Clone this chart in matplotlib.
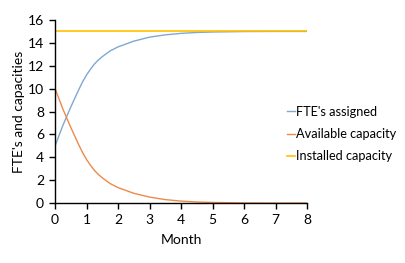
import numpy as np
import matplotlib
matplotlib.use("Agg")
import matplotlib.pyplot as plt

plt.rcParams['font.family'] = ['Lato', 'DejaVu Sans']

month = [0, 0.25, 0.5, 0.75, 0.875, 1, 1.125, 1.25, 1.375, 1.5, 1.75, 2, 2.5, 3, 3.5,
         4, 4.5, 5, 5.5, 6, 7, 8]
fte_assigned = [5, 6.8, 8.4, 9.9, 10.6, 11.2, 11.7, 12.15, 12.5, 12.8, 13.3, 13.65,
                14.15, 14.5, 14.7, 14.83, 14.91, 14.95, 14.97, 14.99, 15, 15]
available = [10, 8.2, 6.6, 5.1, 4.4, 3.8, 3.3, 2.85, 2.5, 2.2, 1.7, 1.35,
             0.85, 0.52, 0.3, 0.17, 0.09, 0.05, 0.03, 0.01, 0, 0]
installed = [15] * len(month)

fig = plt.figure(figsize=(4.05, 2.63), dpi=100)
ax = fig.add_axes([0.136, 0.228, 0.622, 0.696])

ax.plot(month, fte_assigned, color='#7FA8D2', lw=1.0, label="FTE's assigned")
ax.plot(month, available, color='#EE8A48', lw=1.0, label='Available capacity')
ax.plot(month, installed, color='#FFC000', lw=1.2, label='Installed capacity')

ax.set_xlim(0, 8)
ax.set_ylim(0, 16)
ax.set_xticks(range(0, 9))
ax.set_yticks(range(0, 17, 2))
for s in ['top', 'right']:
    ax.spines[s].set_visible(False)
for s in ['left', 'bottom']:
    ax.spines[s].set_linewidth(1.0)
ax.tick_params(direction='out', length=4, width=1, labelsize=10, pad=4)
ax.set_xlabel('Month', fontsize=10, labelpad=6)
ax.set_ylabel("FTE's and capacities", fontsize=10, labelpad=2)

fig.legend(loc='center left', bbox_to_anchor=(0.68, 0.49), frameon=False,
           fontsize=9.2, handlelength=0.6, handletextpad=0.1, labelspacing=0.8)

fig.savefig('out.png', dpi=100)
